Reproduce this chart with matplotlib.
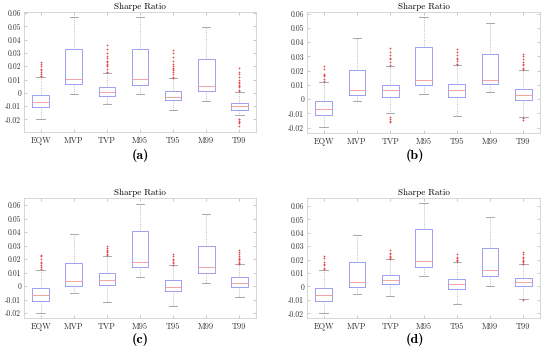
import matplotlib
matplotlib.use('Agg')
import matplotlib.pyplot as plt
from matplotlib.ticker import FuncFormatter, MultipleLocator

plt.rcParams['font.family'] = ['cmr10', 'DejaVu Serif']
plt.rcParams['axes.unicode_minus'] = False
plt.rcParams['axes.formatter.use_mathtext'] = False

names = ['EQW', 'MVP', 'TVP', 'M95', 'T95', 'M99', 'T99']
panels = ['(a)', '(b)', '(c)', '(d)']

# per panel, per strategy: (whislo, q1, med, q3, whishi)
stats_a = [(-0.0198, -0.0109, -0.0070, -0.0014, 0.0118),
           (-0.0009, 0.0064, 0.0104, 0.0326, 0.0570),
           (-0.0087, -0.0024, 0.0004, 0.0042, 0.0150),
           (-0.0008, 0.0056, 0.0104, 0.0332, 0.0569),
           (-0.0126, -0.0056, -0.0029, 0.0014, 0.0110),
           (-0.0062, 0.0012, 0.0054, 0.0253, 0.0493),
           (-0.0168, -0.0129, -0.0103, -0.0074, 0.0006)]
stats_b = [(-0.0198, -0.0112, -0.0070, -0.0014, 0.0120),
           (-0.0012, 0.0030, 0.0068, 0.0202, 0.0429),
           (-0.0094, 0.0016, 0.0063, 0.0103, 0.0230),
           (0.0040, 0.0099, 0.0134, 0.0366, 0.0575),
           (-0.0117, 0.0014, 0.0068, 0.0110, 0.0239),
           (0.0050, 0.0110, 0.0134, 0.0314, 0.0537),
           (-0.0127, -0.0007, 0.0033, 0.0075, 0.0204)]
stats_c = [(-0.0198, -0.0110, -0.0068, -0.0016, 0.0123),
           (-0.0052, 0.0002, 0.0040, 0.0168, 0.0383),
           (-0.0121, 0.0005, 0.0042, 0.0094, 0.0222),
           (0.0065, 0.0143, 0.0178, 0.0412, 0.0610),
           (-0.0146, -0.0040, -0.0007, 0.0042, 0.0156),
           (0.0025, 0.0097, 0.0138, 0.0297, 0.0536),
           (-0.0079, -0.0006, 0.0025, 0.0067, 0.0162)]
stats_d = [(-0.0198, -0.0109, -0.0067, -0.0012, 0.0124),
           (-0.0054, -0.0005, 0.0030, 0.0181, 0.0386),
           (-0.0072, 0.0015, 0.0047, 0.0089, 0.0202),
           (0.0077, 0.0149, 0.0188, 0.0431, 0.0619),
           (-0.0129, -0.0020, 0.0017, 0.0059, 0.0186),
           (0.0002, 0.0079, 0.0121, 0.0287, 0.0520),
           (-0.0097, 0.0002, 0.0030, 0.0067, 0.0165)]

# outliers
fliers_a = [[0.0125, 0.013, 0.014, 0.016, 0.017, 0.018, 0.020, 0.022, 0.0235],
            [],
            [0.0155, 0.016, 0.018, 0.020, 0.021, 0.022, 0.023, 0.024, 0.026, 0.028, 0.030, 0.033, 0.036],
            [],
            [0.0115, 0.012, 0.014, 0.016, 0.017, 0.018, 0.019, 0.020, 0.022, 0.024, 0.027, 0.030, 0.032],
            [],
            [0.001, 0.002, 0.004, 0.005, 0.006, 0.007, 0.008, 0.010, 0.012, 0.014, 0.016, 0.019,
             -0.0195, -0.020, -0.021, -0.022, -0.023, -0.025]]
fliers_b = [[0.0125, 0.014, 0.016, 0.017, 0.018, 0.021, 0.023],
            [],
            [0.024, 0.026, 0.028, 0.029, 0.031, 0.033, 0.036, -0.0125, -0.014, -0.015, -0.016],
            [],
            [0.0245, 0.025, 0.027, 0.028, 0.029, 0.031, 0.033, 0.035],
            [],
            [0.021, 0.022, 0.024, 0.025, 0.026, 0.028, 0.030, 0.032, -0.0135, -0.0145]]
fliers_c = [[0.013, 0.014, 0.016, 0.017, 0.018, 0.020, 0.022, 0.023],
            [],
            [0.023, 0.024, 0.025, 0.026, 0.027, 0.028, 0.030],
            [],
            [0.016, 0.017, 0.018, 0.019, 0.020, 0.022, 0.024],
            [],
            [0.0165, 0.017, 0.018, 0.019, 0.020, 0.021, 0.022, 0.024, 0.025, 0.027]]
fliers_d = [[0.013, 0.014, 0.016, 0.017, 0.018, 0.021, 0.023],
            [],
            [0.0205, 0.021, 0.022, 0.023, 0.024, 0.025, 0.027],
            [],
            [0.019, 0.0195, 0.020, 0.021, 0.022, 0.024],
            [],
            [0.0168, 0.017, 0.018, 0.019, 0.020, 0.021, 0.022, 0.024, 0.026, -0.0100]]

all_stats = [stats_a, stats_b, stats_c, stats_d]
all_fliers = [fliers_a, fliers_b, fliers_c, fliers_d]
ylims = [(-0.0295, 0.0608), (-0.0237, 0.0612), (-0.0237, 0.0654), (-0.0235, 0.066)]

# axes rectangles in pixels: left, top, right, bottom
rects = [(24, 12, 256, 132), (307, 12, 540, 133), (24, 198, 256, 318), (307, 198, 540, 318)]
label_pos = [(140, 155), (415, 155), (140, 340), (415, 340)]

W, H = 550, 354
fig = plt.figure(figsize=(W / 100, H / 100), dpi=100)

def fmt(v, pos):
    if abs(v) < 1e-9:
        return '0'
    return '%.2f' % v

for k in range(4):
    l, t, r, b = rects[k]
    ax = fig.add_axes([l / W, 1 - b / H, (r - l) / W, (b - t) / H])
    bxp_stats = []
    for i, name in enumerate(names):
        lo, q1, med, q3, hi = all_stats[k][i]
        bxp_stats.append({'label': name, 'whislo': lo, 'q1': q1, 'med': med,
                          'q3': q3, 'whishi': hi, 'fliers': all_fliers[k][i]})
    ax.bxp(bxp_stats, widths=0.5, showfliers=True,
           boxprops=dict(color='#8f8ff2', linewidth=0.6),
           whiskerprops=dict(color='#a8a8a8', linewidth=0.6, linestyle=':'),
           capprops=dict(color='#999999', linewidth=0.6),
           medianprops=dict(color='#f39595', linewidth=0.6),
           flierprops=dict(marker='+', markeredgecolor='#e84848', markersize=2,
                           markeredgewidth=0.5, linestyle='none'))
    ax.set_xlim(0.5, 7.5)
    ax.set_ylim(*ylims[k])
    ax.yaxis.set_major_locator(MultipleLocator(0.01))
    ax.yaxis.set_major_formatter(FuncFormatter(fmt))
    ax.set_title('Sharpe Ratio', fontsize=6.5, pad=2)
    ax.tick_params(axis='both', direction='in', length=2, width=0.5, colors='#b0b0b0',
                   labelcolor='#333333', labelsize=5.5, top=True, right=True, pad=2)
    ax.tick_params(axis='x', labelsize=6, pad=3)
    for s in ax.spines.values():
        s.set_color('#d0d0d0')
        s.set_linewidth(0.6)
    fig.text(label_pos[k][0] / W, 1 - label_pos[k][1] / H, panels[k],
             ha='center', va='center', fontsize=10, family=['cmb10', 'DejaVu Serif'])

fig.savefig('out.png', dpi=100)
